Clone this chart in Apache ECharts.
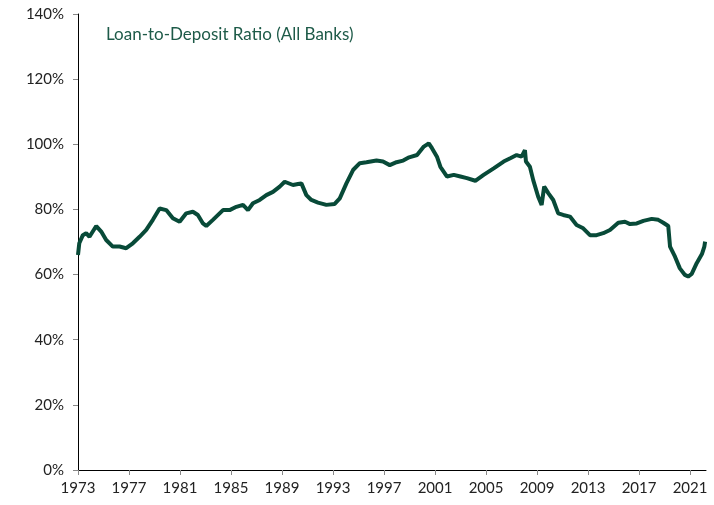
<!DOCTYPE html>
<html>
<head>
<meta charset="utf-8">
<script src="https://cdn.jsdelivr.net/npm/echarts@6/dist/echarts.min.js"></script>
<style>
  html, body { margin: 0; padding: 0; background: #fff; }
  #chart { width: 714px; height: 505px; }
</style>
</head>
<body>
<div id="chart"></div>
<script>
// (decimal year, ratio in %)
const years = [
  1973.0, 1973.1, 1973.38, 1973.64, 1973.9, 1974.43, 1974.82, 1975.21, 1975.73, 1976.26,
  1976.78, 1977.3, 1977.83, 1978.35, 1978.87, 1979.4, 1979.92, 1980.44, 1980.97, 1981.49,
  1982.01, 1982.4, 1982.8, 1983.06, 1983.58, 1984.37, 1984.89, 1985.42, 1985.94, 1986.33,
  1986.72, 1987.25, 1987.77, 1988.29, 1988.82, 1989.21, 1989.86, 1990.25, 1990.52, 1990.91,
  1991.3, 1991.82, 1992.48, 1993.13, 1993.53, 1994.05, 1994.57, 1995.1, 1995.62, 1996.41,
  1996.92, 1997.45, 1997.98, 1998.5, 1998.97, 1999.59, 2000.12, 2000.51, 2000.76, 2001.15,
  2001.42, 2001.94, 2002.47, 2002.99, 2003.5, 2004.16, 2004.81, 2005.6, 2006.38, 2006.9,
  2007.4, 2007.79, 2008.05, 2008.13, 2008.44, 2008.7, 2009.09, 2009.36, 2009.56, 2009.88,
  2010.27, 2010.66, 2011.05, 2011.58, 2012.1, 2012.62, 2013.15, 2013.67, 2014.19, 2014.72,
  2015.37, 2015.9, 2016.29, 2016.82, 2017.34, 2017.99, 2018.51, 2018.9, 2019.29, 2019.43,
  2019.82, 2020.2, 2020.6, 2020.85, 2021.13, 2021.52, 2021.93, 2022.12, 2022.18
];
const ratio = [
  66.0, 69.6, 72.1, 72.7, 71.6, 74.9, 73.2, 70.6, 68.6, 68.6,
  68.1, 69.6, 71.6, 73.7, 76.8, 80.3, 79.8, 77.3, 76.2, 78.8,
  79.3, 78.3, 75.7, 74.9, 76.8, 79.8, 79.8, 80.8, 81.4, 79.8,
  81.9, 82.9, 84.4, 85.4, 87.0, 88.5, 87.5, 87.8, 88.0, 84.4,
  82.9, 82.1, 81.4, 81.7, 83.4, 88.0, 92.1, 94.2, 94.5, 95.0,
  94.7, 93.6, 94.5, 95.0, 96.0, 96.7, 99.3, 100.3, 98.8, 96.2,
  93.1, 90.1, 90.6, 90.1, 89.6, 88.8, 90.6, 92.6, 94.7, 95.7,
  96.7, 96.2, 98.2, 94.7, 93.1, 89.0, 83.9, 81.4, 87.0, 85.0,
  82.9, 78.8, 78.3, 77.8, 75.2, 74.2, 72.1, 72.1, 72.7, 73.7,
  75.9, 76.2, 75.5, 75.7, 76.5, 77.1, 76.8, 75.9, 74.9, 68.6,
  65.5, 61.9, 59.9, 59.4, 60.2, 63.5, 66.3, 68.6, 70.1
];
const startYear = 1973;
const yTicks = [0, 20, 40, 60, 80, 100, 120, 140];
const title = 'Loan-to-Deposit Ratio (All Banks)';

const chart = echarts.init(document.getElementById('chart'));
chart.setOption({
  animation: false,
  backgroundColor: '#fff',
  title: {
    text: title,
    left: 101,
    top: 21,
    textStyle: { color: '#1d5a48', fontSize: 17, fontWeight: 'normal', fontFamily: 'Lato' }
  },
  grid: { left: 78, right: 8, top: 14, bottom: 35 },
  xAxis: {
    type: 'value',
    min: 0,
    max: 49.25,
    interval: 4,
    axisLine: { lineStyle: { color: '#000', width: 1 } },
    axisTick: { show: true, length: 5, lineStyle: { color: '#888' } },
    axisLabel: {
      color: '#222', fontSize: 15, fontFamily: 'Lato', margin: 11,
      formatter: v => String(v + startYear), showMaxLabel: false
    },
    splitLine: { show: false }
  },
  yAxis: {
    type: 'value',
    min: yTicks[0],
    max: yTicks[yTicks.length - 1],
    interval: 20,
    axisLine: { show: true, lineStyle: { color: '#000', width: 1 } },
    axisTick: { show: true, length: 5, lineStyle: { color: '#888' } },
    axisLabel: { color: '#222', fontSize: 15, fontFamily: 'Lato', margin: 14, formatter: '{value}%' },
    splitLine: { show: false }
  },
  series: [{
    type: 'line',
    data: years.map((y, i) => [y - startYear, ratio[i]]),
    showSymbol: false,
    lineStyle: { color: '#084a38', width: 4 }
  }]
});
</script>
</body>
</html>
